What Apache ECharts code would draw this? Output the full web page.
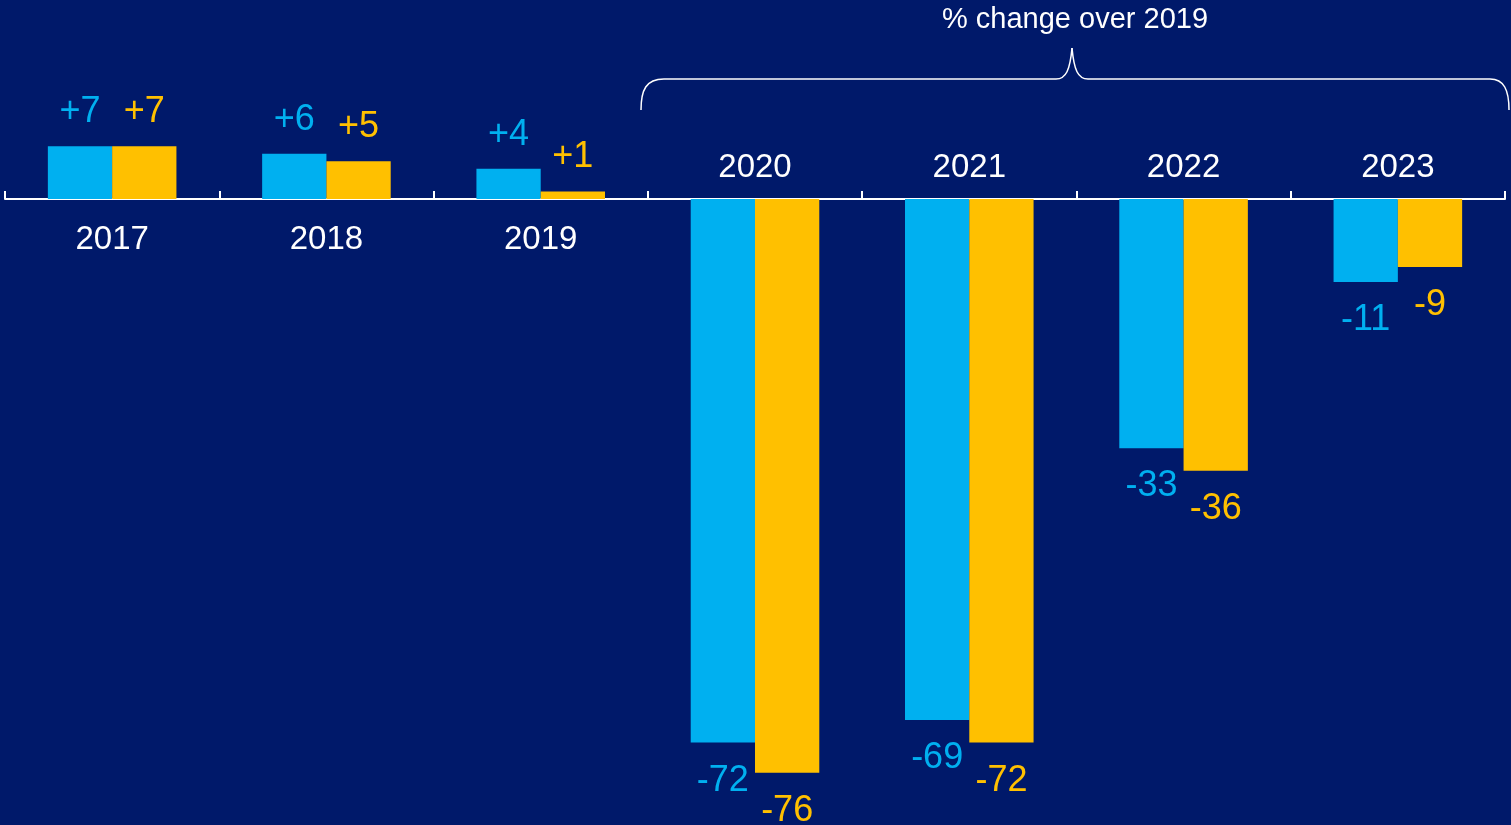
<!DOCTYPE html>
<html>
<head>
<meta charset="utf-8">
<title>% change over 2019</title>
<script src="https://cdn.jsdelivr.net/npm/echarts@6/dist/echarts.min.js"></script>
<style>
  html, body { margin: 0; padding: 0; background: #00196A; }
  #chart { width: 1511px; height: 825px; }
</style>
</head>
<body>
<div id="chart"></div>
<script>
// years on the axis; the first three are labelled below the line, the rest above
const years = ['2017', '2018', '2019', '2020', '2021', '2022', '2023']
const firstUpperLabel = 3
// cyan series and gold series, % values
const cyanValues = [7, 6, 4, -72, -69, -33, -11]
const goldValues = [7, 5, 1, -76, -72, -36, -9]

const FONT = '"Liberation Sans", Arial, sans-serif'
const CYAN = '#00B0F0'
const GOLD = '#FFC000'

const chart = echarts.init(document.getElementById('chart'))

function signed(v) {
  return v > 0 ? '+' + v : String(v)
}

// labels above positive bars, below negative ones
function barData(values) {
  return values.map(v => ({
    value: v,
    label: v >= 0 ? { position: 'top', distance: 16 } : { position: 'bottom', distance: 20 }
  }))
}

function barSeries(name, values, color) {
  return {
    name: name,
    type: 'bar',
    barWidth: '30%',
    barGap: '0%',
    itemStyle: { color: color },
    label: {
      show: true,
      color: color,
      fontSize: 36,
      fontFamily: FONT,
      formatter: p => signed(p.value)
    },
    data: barData(values)
  }
}

// year labels sit on the zero line: below it for 2017-2019, above it after
const yearLabelSeries = {
  type: 'scatter',
  symbolSize: 0,
  silent: true,
  itemStyle: { color: 'transparent', opacity: 1 },
  label: {
    show: true,
    color: '#fff',
    fontSize: 33,
    fontFamily: FONT,
    formatter: p => p.name
  },
  data: years.map((y, i) => ({
    name: y,
    value: [y, 0],
    label: i < firstUpperLabel ? { position: 'bottom', distance: 24 } : { position: 'top', distance: 15 }
  }))
}

// brace pieces (annotation only)
const braceStyle = { stroke: '#fff', lineWidth: 1.5, fill: null }
function curve(x1, y1, cx1, cy1, cx2, cy2, x2, y2) {
  return {
    type: 'bezierCurve', silent: true,
    shape: { x1: x1, y1: y1, cpx1: cx1, cpy1: cy1, cpx2: cx2, cpy2: cy2, x2: x2, y2: y2 },
    style: braceStyle
  }
}
function straight(x1, y1, x2, y2) {
  return { type: 'line', silent: true, shape: { x1: x1, y1: y1, x2: x2, y2: y2 }, style: braceStyle }
}

chart.setOption({
  backgroundColor: '#00196A',
  animation: false,
  title: {
    text: '% change over 2019',
    left: 1070,
    top: 0,
    textAlign: 'center',
    textStyle: { color: '#fff', fontSize: 29, fontWeight: 'normal', fontFamily: FONT }
  },
  grid: { left: 5, right: 6, top: 48, bottom: 22, containLabel: false, outerBoundsMode: 'none' },
  xAxis: {
    type: 'category',
    data: years,
    axisLine: { onZero: true, lineStyle: { color: '#fff', width: 2 } },
    axisTick: { show: true, inside: true, length: 8, lineStyle: { color: '#fff', width: 2 } },
    axisLabel: { show: false }
  },
  yAxis: {
    type: 'value',
    min: -80,
    max: 20,
    show: false,
    splitLine: { show: false }
  },
  series: [
    barSeries('cyan', cyanValues, CYAN),
    barSeries('gold', goldValues, GOLD),
    yearLabelSeries
  ],
  graphic: [
    curve(641, 110, 641, 90, 646, 79, 664, 79),
    straight(664, 79, 1056, 79),
    curve(1056, 79, 1066, 79, 1070, 70, 1072, 48),
    curve(1072, 48, 1074, 70, 1078, 79, 1088, 79),
    straight(1088, 79, 1490, 79),
    curve(1490, 79, 1504, 79, 1509, 90, 1509, 110)
  ]
})
</script>
</body>
</html>
